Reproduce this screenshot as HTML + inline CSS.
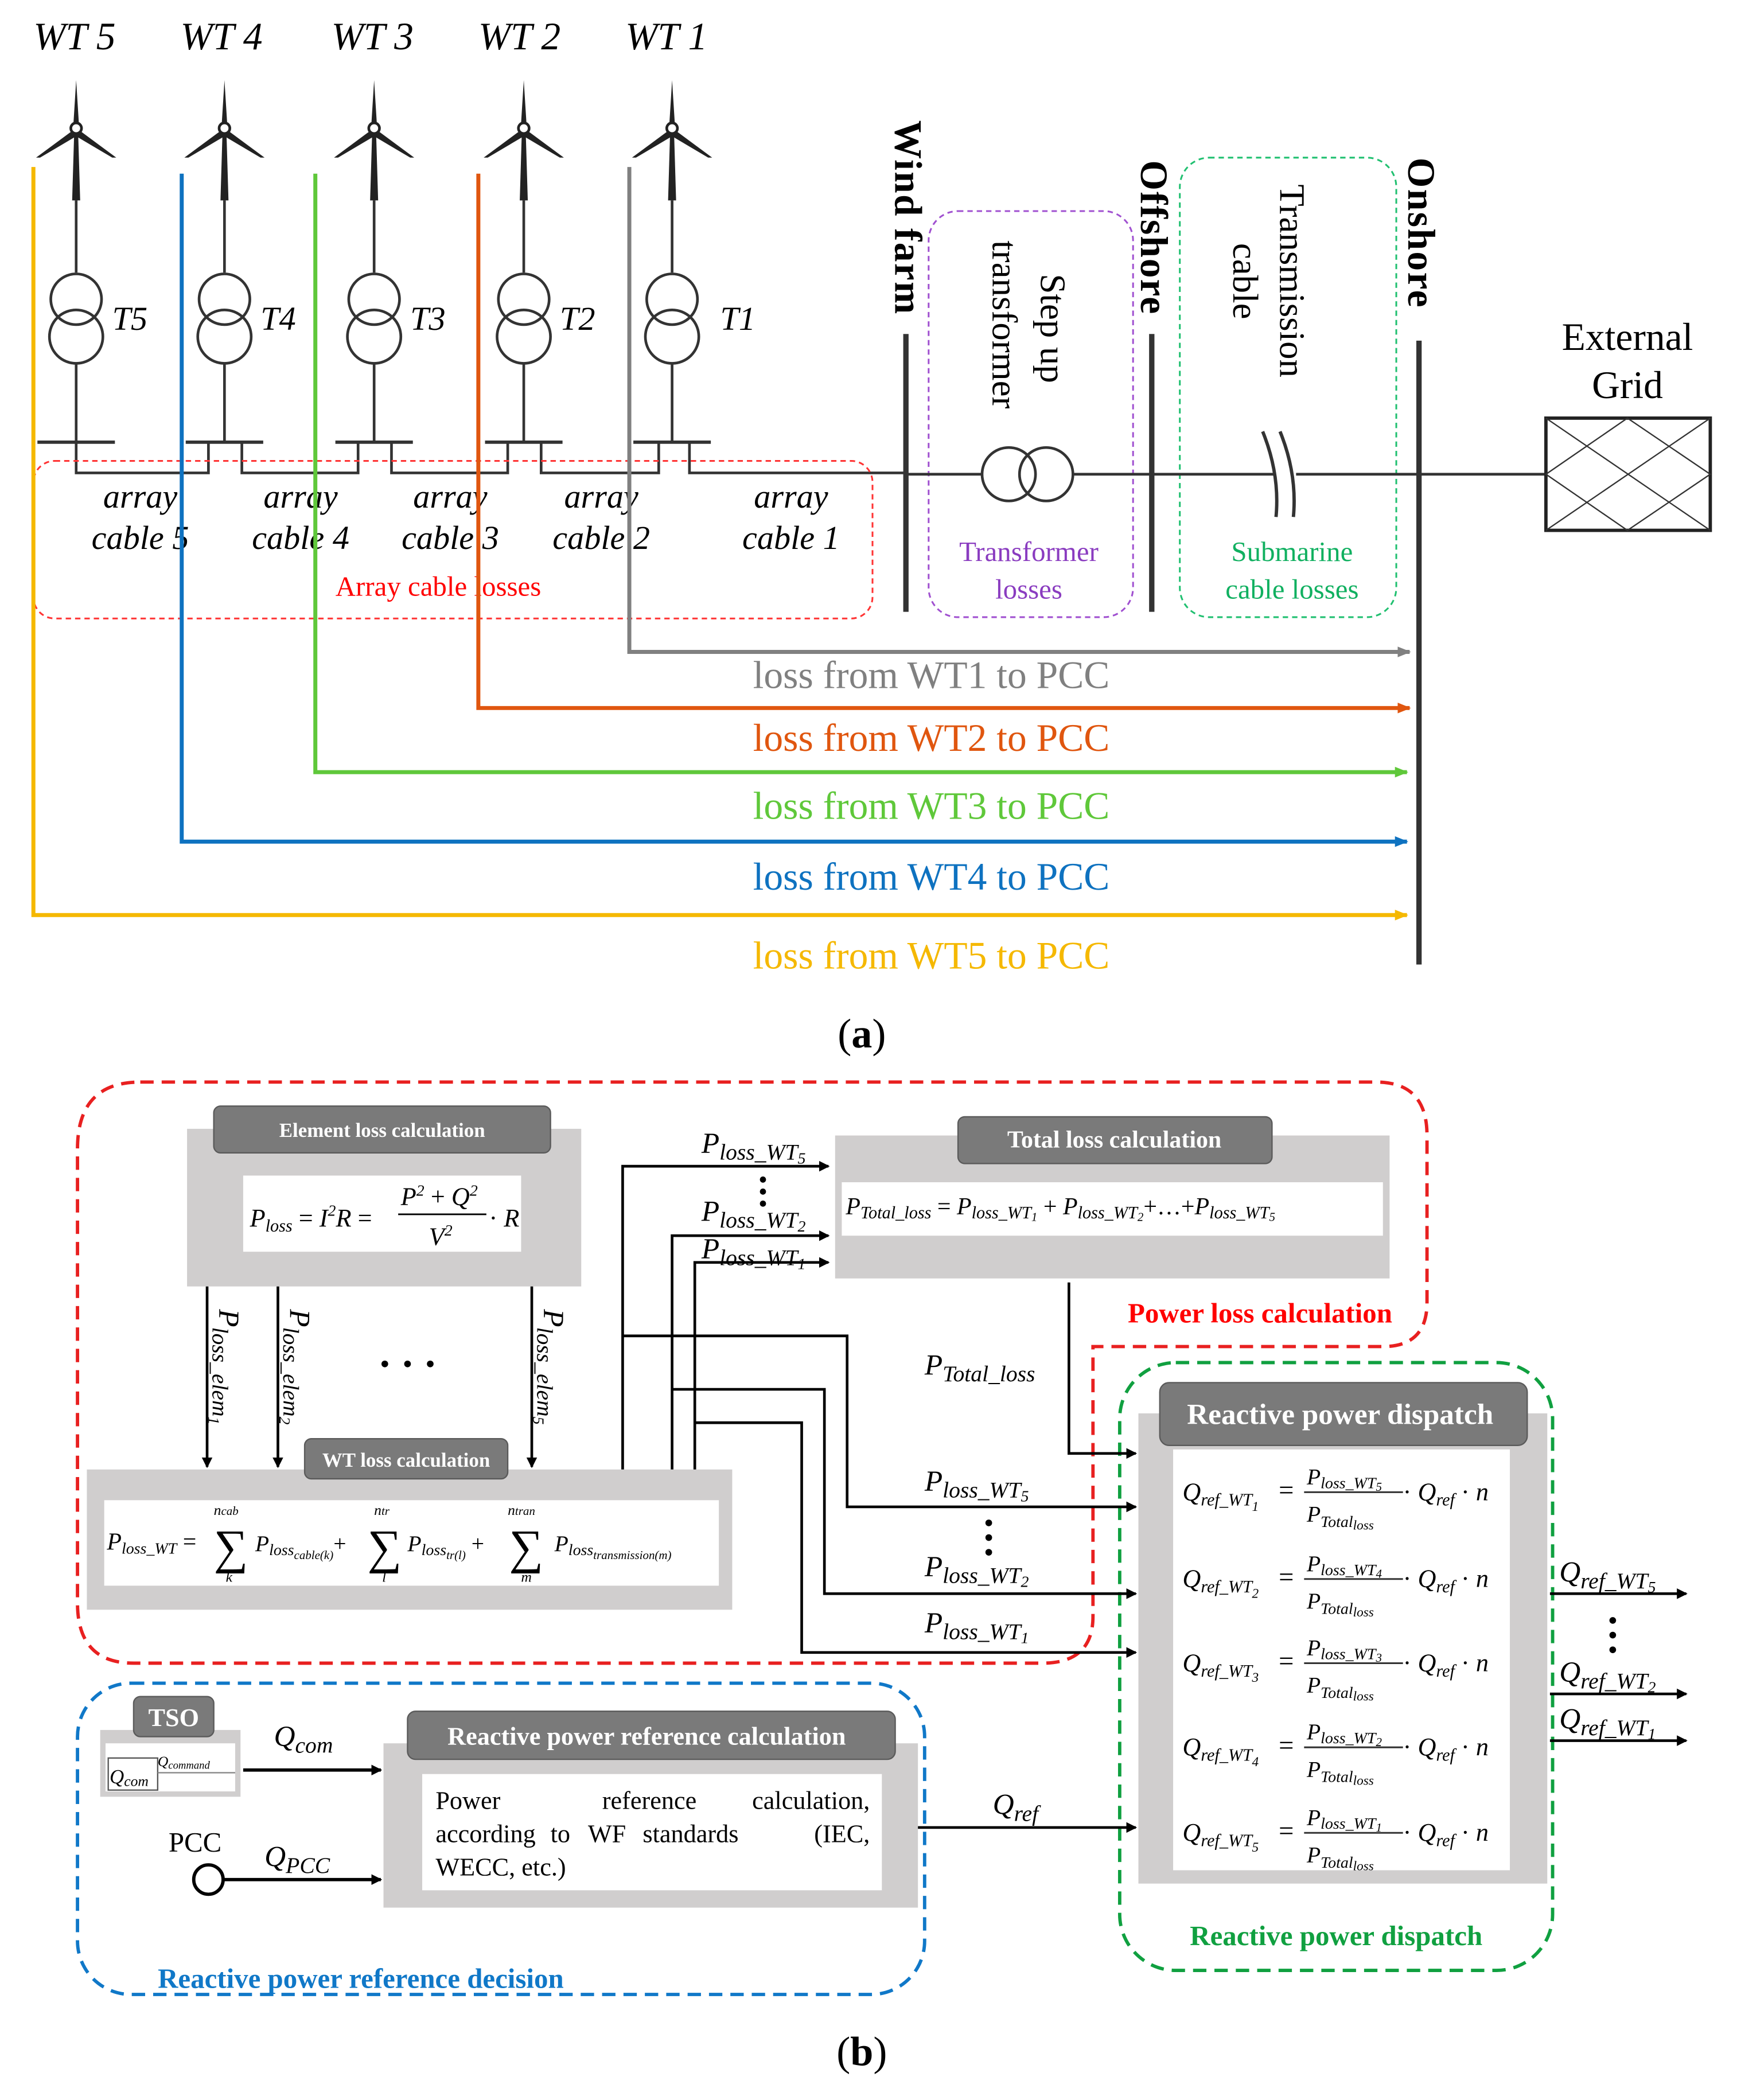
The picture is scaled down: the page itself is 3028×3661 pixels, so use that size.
<!DOCTYPE html>
<html><head><meta charset="utf-8">
<style>
html,body{margin:0;padding:0;background:#fff;}
svg{display:block;}
text{font-family:"Liberation Serif",serif;}
</style></head>
<body>
<svg width="3028" height="3661" viewBox="0 0 1300 1572" preserveAspectRatio="none" xmlns="http://www.w3.org/2000/svg">
<defs>
<marker id="ak" markerWidth="8" markerHeight="8" refX="7" refY="4" orient="auto" markerUnits="userSpaceOnUse"><path d="M0,0 L8,4 L0,8 z" fill="#000"/></marker>
<marker id="ag" markerWidth="10" markerHeight="8" refX="9" refY="4" orient="auto" markerUnits="userSpaceOnUse"><path d="M0,0 L10,4 L0,8 z" fill="#808080"/></marker>
<marker id="ao" markerWidth="10" markerHeight="8" refX="9" refY="4" orient="auto" markerUnits="userSpaceOnUse"><path d="M0,0 L10,4 L0,8 z" fill="#e0560f"/></marker>
<marker id="agr" markerWidth="10" markerHeight="8" refX="9" refY="4" orient="auto" markerUnits="userSpaceOnUse"><path d="M0,0 L10,4 L0,8 z" fill="#5fc83a"/></marker>
<marker id="ab" markerWidth="10" markerHeight="8" refX="9" refY="4" orient="auto" markerUnits="userSpaceOnUse"><path d="M0,0 L10,4 L0,8 z" fill="#0e72c0"/></marker>
<marker id="ay" markerWidth="10" markerHeight="8" refX="9" refY="4" orient="auto" markerUnits="userSpaceOnUse"><path d="M0,0 L10,4 L0,8 z" fill="#f5b800"/></marker>
<g id="tb">
<polygon points="0,60 -2,92 2,92" fill="#222"/>
<polygon points="-3,98 -30,118 -27,118 0,102" fill="#222"/>
<polygon points="3,98 30,118 27,118 0,102" fill="#222"/>
<circle cx="0" cy="96" r="4" fill="#fff" stroke="#222" stroke-width="2"/>
<polygon points="-1.5,100 1.5,100 3,150 -3,150" fill="#222"/>
<line x1="0" y1="150" x2="0" y2="204" stroke="#333" stroke-width="2"/>
<circle cx="0" cy="224" r="19" fill="none" stroke="#333" stroke-width="2"/>
<circle cx="0" cy="252" r="20" fill="none" stroke="#333" stroke-width="2"/>
<line x1="0" y1="272" x2="0" y2="331" stroke="#333" stroke-width="2"/>
<line x1="-29" y1="331" x2="29" y2="331" stroke="#333" stroke-width="2.5"/>
</g>
<g id="qrow" font-style="italic">
<text x="885" y="6" font-size="19">Q<tspan font-size="13" dy="4">ref_WT</tspan></text>
<text x="957" y="5" font-size="20" font-style="normal">=</text>
<line x1="976" y1="0" x2="1050" y2="0" stroke="#333" stroke-width="1.3"/>
<text x="978" y="22" font-size="17">P<tspan font-size="12" dy="4">Total<tspan font-size="10" dy="2">loss</tspan></tspan></text>
<text x="1050" y="6" font-size="19"><tspan font-style="normal">· </tspan>Q<tspan font-size="13" dy="4">ref</tspan><tspan dy="-4" font-style="normal"> · </tspan>n</text>
</g>
</defs>

<!-- ===== (a) ===== -->
<g font-size="29" font-style="italic">
<text x="25" y="37">WT 5</text>
<text x="135" y="37">WT 4</text>
<text x="248" y="37">WT 3</text>
<text x="358" y="37">WT 2</text>
<text x="468" y="37">WT 1</text>
</g>
<use href="#tb" x="57" y="0"/>
<use href="#tb" x="168" y="0"/>
<use href="#tb" x="280" y="0"/>
<use href="#tb" x="392" y="0"/>
<use href="#tb" x="503" y="0"/>
<g font-size="25" font-style="italic">
<text x="84" y="247">T5</text><text x="195" y="247">T4</text><text x="307" y="247">T3</text><text x="419" y="247">T2</text><text x="539" y="247">T1</text>
</g>
<path d="M57,331 V354 H156 V331 M181,331 V354 H268 V331 M293,331 V354 H380 V331 M405,331 V354 H493 V331 M516,331 V354 H678" fill="none" stroke="#333" stroke-width="2"/>
<g font-size="25" font-style="italic" text-anchor="middle">
<text x="105" y="380">array</text><text x="105" y="411">cable 5</text>
<text x="225" y="380">array</text><text x="225" y="411">cable 4</text>
<text x="337" y="380">array</text><text x="337" y="411">cable 3</text>
<text x="450" y="380">array</text><text x="450" y="411">cable 2</text>
<text x="592" y="380">array</text><text x="592" y="411">cable 1</text>
</g>
<rect x="25" y="345" width="628" height="118" rx="16" fill="none" stroke="#f33" stroke-width="1.3" stroke-dasharray="4,3"/>
<text x="328" y="446" font-size="21" fill="#f00" text-anchor="middle">Array cable losses</text>

<path d="M471,125 V488 H1055" fill="none" stroke="#808080" stroke-width="3" marker-end="url(#ag)"/>
<path d="M358,130 V530 H1055" fill="none" stroke="#e0560f" stroke-width="3" marker-end="url(#ao)"/>
<path d="M236,130 V578 H1053" fill="none" stroke="#5fc83a" stroke-width="3" marker-end="url(#agr)"/>
<path d="M136,130 V630 H1053" fill="none" stroke="#0e72c0" stroke-width="3" marker-end="url(#ab)"/>
<path d="M25,125 V685 H1053" fill="none" stroke="#f5b800" stroke-width="3" marker-end="url(#ay)"/>
<g font-size="29" text-anchor="middle">
<text x="697" y="515" fill="#808080">loss from WT1 to PCC</text>
<text x="697" y="562" fill="#e0560f">loss from WT2 to PCC</text>
<text x="697" y="613" fill="#5fc83a">loss from WT3 to PCC</text>
<text x="697" y="666" fill="#0e72c0">loss from WT4 to PCC</text>
<text x="697" y="725" fill="#f5b800">loss from WT5 to PCC</text>
</g>

<line x1="678" y1="250" x2="678" y2="458" stroke="#333" stroke-width="4"/>
<line x1="862" y1="250" x2="862" y2="458" stroke="#333" stroke-width="4"/>
<line x1="1062" y1="255" x2="1062" y2="722" stroke="#333" stroke-width="4"/>
<g font-size="29" font-weight="bold">
<text transform="translate(670,90) rotate(90)" textLength="145">Wind farm</text>
<text transform="translate(854,120) rotate(90)" textLength="115">Offshore</text>
<text transform="translate(1054,118) rotate(90)" textLength="112">Onshore</text>
</g>
<g font-size="27">
<text transform="translate(779,205) rotate(90)">Step up</text>
<text transform="translate(743,180) rotate(90)">transformer</text>
<text transform="translate(958,138) rotate(90)">Transmission</text>
<text transform="translate(923,182) rotate(90)">cable</text>
</g>
<rect x="695" y="158" width="153" height="304" rx="22" fill="none" stroke="#a050d0" stroke-width="1.3" stroke-dasharray="4,3"/>
<rect x="883" y="118" width="162" height="344" rx="22" fill="none" stroke="#20c070" stroke-width="1.3" stroke-dasharray="4,3"/>
<path d="M678,355 H735 M803,355 H862 M862,355 H955 M970,355 H1157" stroke="#333" stroke-width="2"/>
<circle cx="755" cy="355" r="20" fill="none" stroke="#333" stroke-width="2"/>
<circle cx="783" cy="355" r="20" fill="none" stroke="#333" stroke-width="2"/>
<path d="M945,323 Q958,355 955,387 M958,323 Q971,355 968,387" fill="none" stroke="#333" stroke-width="2.5"/>
<g font-size="21" text-anchor="middle">
<text x="770" y="420" fill="#8a3cc0">Transformer</text><text x="770" y="448" fill="#8a3cc0">losses</text>
<text x="967" y="420" fill="#10b060">Submarine</text><text x="967" y="448" fill="#10b060">cable losses</text>
</g>
<g font-size="29" text-anchor="middle">
<text x="1218" y="262">External</text><text x="1218" y="298">Grid</text>
</g>
<rect x="1157" y="313" width="123" height="84" fill="none" stroke="#222" stroke-width="2.5"/>
<path d="M1157,313 L1280,397 M1280,313 L1157,397 M1157,355 L1218,313 L1280,355 L1218,397 Z" fill="none" stroke="#333" stroke-width="1"/>
<text x="645" y="784" font-size="31" text-anchor="middle">(<tspan font-weight="bold">a</tspan>)</text>

<!-- ===== (b) ===== -->
<path d="M105,810 H1030 Q1068,810 1068,850 V975 Q1068,1008 1035,1008 H818 V1210 Q818,1245 780,1245 H100 Q58,1245 58,1200 V860 Q58,810 105,810 Z" fill="none" stroke="#e82020" stroke-width="2.5" stroke-dasharray="10,6"/>
<rect x="838" y="1020" width="324" height="455" rx="42" fill="none" stroke="#10a040" stroke-width="2.5" stroke-dasharray="10,6"/>
<rect x="58" y="1260" width="634" height="233" rx="40" fill="none" stroke="#1078c8" stroke-width="2.5" stroke-dasharray="10,6"/>
<text x="943" y="990" font-size="21" font-weight="bold" fill="#f00" text-anchor="middle">Power loss calculation</text>
<text x="1000" y="1456" font-size="21" font-weight="bold" fill="#10a040" text-anchor="middle">Reactive power dispatch</text>
<text x="270" y="1488" font-size="21" font-weight="bold" fill="#1078c8" text-anchor="middle">Reactive power reference decision</text>

<rect x="140" y="845" width="295" height="118" fill="#d0cece"/>
<rect x="160" y="828" width="252" height="35" rx="5" fill="#7a7a7a" stroke="#5a5a5a"/>
<text x="286" y="851" font-size="15" font-weight="bold" fill="#fff" text-anchor="middle">Element loss calculation</text>
<rect x="182" y="880" width="208" height="57" fill="#fff"/>
<g font-size="19" font-style="italic">
<text x="187" y="918">P<tspan font-size="13" dy="4">loss</tspan><tspan dy="-4" font-style="normal"> = </tspan>I<tspan font-size="12" dy="-8">2</tspan><tspan dy="8">R</tspan><tspan font-style="normal"> =</tspan></text>
<text x="300" y="902">P<tspan font-size="12" dy="-7">2</tspan><tspan dy="7" font-style="normal"> + </tspan>Q<tspan font-size="12" dy="-7">2</tspan></text>
<line x1="298" y1="909" x2="364" y2="909" stroke="#000" stroke-width="1.2"/>
<text x="321" y="932">V<tspan font-size="12" dy="-7">2</tspan></text>
<text x="366" y="918"><tspan font-style="normal">· </tspan>R</text>
</g>
<line x1="155" y1="963" x2="155" y2="1098" stroke="#000" stroke-width="2" marker-end="url(#ak)"/>
<line x1="208" y1="963" x2="208" y2="1098" stroke="#000" stroke-width="2" marker-end="url(#ak)"/>
<line x1="398" y1="963" x2="398" y2="1098" stroke="#000" stroke-width="2" marker-end="url(#ak)"/>
<g font-size="22" font-style="italic">
<text transform="translate(164,980) rotate(90)">P<tspan font-size="17" dy="5">loss_elem<tspan font-size="12" dy="3">1</tspan></tspan></text>
<text transform="translate(217,980) rotate(90)">P<tspan font-size="17" dy="5">loss_elem<tspan font-size="12" dy="3">2</tspan></tspan></text>
<text transform="translate(407,980) rotate(90)">P<tspan font-size="17" dy="5">loss_elem<tspan font-size="12" dy="3">5</tspan></tspan></text>
</g>
<g fill="#000"><circle cx="288" cy="1021" r="2.5"/><circle cx="305" cy="1021" r="2.5"/><circle cx="322" cy="1021" r="2.5"/></g>

<rect x="65" y="1100" width="483" height="105" fill="#d0cece"/>
<rect x="228" y="1077" width="152" height="30" rx="5" fill="#7a7a7a" stroke="#5a5a5a"/>
<text x="304" y="1098" font-size="15" font-weight="bold" fill="#fff" text-anchor="middle">WT loss calculation</text>
<rect x="78" y="1123" width="460" height="64" fill="#fff"/>
<g font-style="italic">
<text x="80" y="1160" font-size="18">P<tspan font-size="12" dy="3">loss_WT</tspan><tspan dy="-3" font-style="normal" font-size="18"> =</tspan></text>
<text x="160" y="1170" font-size="36" font-style="normal">∑</text>
<text x="160" y="1134" font-size="11">n<tspan font-size="9">cab</tspan></text>
<text x="169" y="1184" font-size="11">k</text>
<text x="191" y="1161" font-size="17">P<tspan font-size="12" dy="3">loss<tspan font-size="9" dy="3">cable(k)</tspan></tspan><tspan dy="-6" font-style="normal">+</tspan></text>
<text x="275" y="1170" font-size="36" font-style="normal">∑</text>
<text x="280" y="1134" font-size="11">n<tspan font-size="9">tr</tspan></text>
<text x="286" y="1184" font-size="11">l</text>
<text x="305" y="1161" font-size="17">P<tspan font-size="12" dy="3">loss<tspan font-size="9" dy="3">tr(l)</tspan></tspan><tspan dy="-6" font-style="normal"> +</tspan></text>
<text x="381" y="1170" font-size="36" font-style="normal">∑</text>
<text x="380" y="1134" font-size="11">n<tspan font-size="9">tran</tspan></text>
<text x="390" y="1184" font-size="11">m</text>
<text x="415" y="1161" font-size="17">P<tspan font-size="12" dy="3">loss<tspan font-size="9" dy="3">transmission(m)</tspan></tspan></text>
</g>

<rect x="625" y="850" width="415" height="107" fill="#d0cece"/>
<rect x="717" y="836" width="235" height="35" rx="5" fill="#7a7a7a" stroke="#5a5a5a"/>
<text x="834" y="859" font-size="18" font-weight="bold" fill="#fff" text-anchor="middle">Total loss  calculation</text>
<rect x="630" y="885" width="405" height="40" fill="#fff"/>
<text x="633" y="909" font-size="18" font-style="italic">P<tspan font-size="13" dy="3">Total_loss</tspan><tspan dy="-3" font-style="normal">  =   </tspan>P<tspan font-size="13" dy="3">loss_WT<tspan font-size="9" dy="2">1</tspan></tspan><tspan dy="-5" font-style="normal"> + </tspan>P<tspan font-size="13" dy="3">loss_WT<tspan font-size="9" dy="2">2</tspan></tspan><tspan dy="-5" font-style="normal">+…+</tspan>P<tspan font-size="13" dy="3">loss_WT<tspan font-size="9" dy="2">5</tspan></tspan></text>

<path d="M466,1100 V873 H620" fill="none" stroke="#000" stroke-width="2" marker-end="url(#ak)"/>
<path d="M503,1100 V925 H620" fill="none" stroke="#000" stroke-width="2" marker-end="url(#ak)"/>
<path d="M520,1100 V945 H620" fill="none" stroke="#000" stroke-width="2" marker-end="url(#ak)"/>
<path d="M466,1000 H634 V1128 H850" fill="none" stroke="#000" stroke-width="2" marker-end="url(#ak)"/>
<path d="M503,1040 H617 V1193 H850" fill="none" stroke="#000" stroke-width="2" marker-end="url(#ak)"/>
<path d="M520,1065 H600 V1237 H850" fill="none" stroke="#000" stroke-width="2" marker-end="url(#ak)"/>
<path d="M800,960 V1088 H850" fill="none" stroke="#000" stroke-width="2" marker-end="url(#ak)"/>
<g font-size="22" font-style="italic">
<text x="525" y="863">P<tspan font-size="17" dy="5">loss_WT<tspan font-size="12" dy="3">5</tspan></tspan></text>
<text x="525" y="914">P<tspan font-size="17" dy="5">loss_WT<tspan font-size="12" dy="3">2</tspan></tspan></text>
<text x="525" y="942">P<tspan font-size="17" dy="5">loss_WT<tspan font-size="12" dy="3">1</tspan></tspan></text>
<text x="692" y="1029">P<tspan font-size="17" dy="5">Total_loss</tspan></text>
<text x="692" y="1116">P<tspan font-size="17" dy="5">loss_WT<tspan font-size="12" dy="3">5</tspan></tspan></text>
<text x="692" y="1180">P<tspan font-size="17" dy="5">loss_WT<tspan font-size="12" dy="3">2</tspan></tspan></text>
<text x="692" y="1222">P<tspan font-size="17" dy="5">loss_WT<tspan font-size="12" dy="3">1</tspan></tspan></text>
</g>
<g fill="#000"><circle cx="571" cy="883" r="2.3"/><circle cx="571" cy="892" r="2.3"/><circle cx="571" cy="901" r="2.3"/>
<circle cx="740" cy="1140" r="2.5"/><circle cx="740" cy="1151" r="2.5"/><circle cx="740" cy="1162" r="2.5"/>
<circle cx="1207" cy="1213" r="2.5"/><circle cx="1207" cy="1224" r="2.5"/><circle cx="1207" cy="1235" r="2.5"/></g>

<rect x="852" y="1058" width="306" height="352" fill="#d0cece"/>
<rect x="868" y="1035" width="275" height="47" rx="7" fill="#7a7a7a" stroke="#5a5a5a"/>
<text x="1003" y="1066" font-size="22" font-weight="bold" fill="#fff" text-anchor="middle">Reactive power dispatch</text>
<rect x="878" y="1085" width="252" height="315" fill="#fff"/>
<g font-style="italic">
<g transform="translate(0,1117)"><use href="#qrow"/>
<text x="937" y="14" font-size="10">1</text>
<text x="978" y="-6" font-size="17">P<tspan font-size="12" dy="3">loss_WT<tspan font-size="9" dy="2">5</tspan></tspan></text></g>
<g transform="translate(0,1182)"><use href="#qrow"/>
<text x="937" y="14" font-size="10">2</text>
<text x="978" y="-6" font-size="17">P<tspan font-size="12" dy="3">loss_WT<tspan font-size="9" dy="2">4</tspan></tspan></text></g>
<g transform="translate(0,1245)"><use href="#qrow"/>
<text x="937" y="14" font-size="10">3</text>
<text x="978" y="-6" font-size="17">P<tspan font-size="12" dy="3">loss_WT<tspan font-size="9" dy="2">3</tspan></tspan></text></g>
<g transform="translate(0,1308)"><use href="#qrow"/>
<text x="937" y="14" font-size="10">4</text>
<text x="978" y="-6" font-size="17">P<tspan font-size="12" dy="3">loss_WT<tspan font-size="9" dy="2">2</tspan></tspan></text></g>
<g transform="translate(0,1372)"><use href="#qrow"/>
<text x="937" y="14" font-size="10">5</text>
<text x="978" y="-6" font-size="17">P<tspan font-size="12" dy="3">loss_WT<tspan font-size="9" dy="2">1</tspan></tspan></text></g>
</g>
<line x1="1160" y1="1193" x2="1262" y2="1193" stroke="#000" stroke-width="2" marker-end="url(#ak)"/>
<line x1="1160" y1="1268" x2="1262" y2="1268" stroke="#000" stroke-width="2" marker-end="url(#ak)"/>
<line x1="1160" y1="1303" x2="1262" y2="1303" stroke="#000" stroke-width="2" marker-end="url(#ak)"/>
<g font-size="22" font-style="italic">
<text x="1167" y="1184">Q<tspan font-size="17" dy="5">ref_WT<tspan font-size="12" dy="3">5</tspan></tspan></text>
<text x="1167" y="1259">Q<tspan font-size="17" dy="5">ref_WT<tspan font-size="12" dy="3">2</tspan></tspan></text>
<text x="1167" y="1294">Q<tspan font-size="17" dy="5">ref_WT<tspan font-size="12" dy="3">1</tspan></tspan></text>
</g>

<rect x="75" y="1295" width="105" height="50" fill="#d0cece"/>
<rect x="79" y="1305" width="97" height="36" fill="#fff"/>
<rect x="100" y="1270" width="60" height="30" rx="5" fill="#7a7a7a" stroke="#5a5a5a"/>
<text x="130" y="1292" font-size="19" font-weight="bold" fill="#fff" text-anchor="middle">TSO</text>
<rect x="81" y="1316" width="37" height="24" fill="none" stroke="#555" stroke-width="1"/>
<text x="82" y="1335" font-size="15" font-style="italic">Q<tspan font-size="11" dy="2">com</tspan></text>
<text x="118" y="1322" font-size="11" font-style="italic">Q<tspan font-size="8" dy="2">command</tspan></text>
<line x1="118" y1="1327" x2="176" y2="1327" stroke="#888" stroke-width="1"/>
<line x1="182" y1="1325" x2="285" y2="1325" stroke="#000" stroke-width="2.5" marker-end="url(#ak)"/>
<text x="205" y="1307" font-size="22" font-style="italic">Q<tspan font-size="17" dy="5">com</tspan></text>
<text x="146" y="1386" font-size="21" text-anchor="middle">PCC</text>
<circle cx="156" cy="1407" r="11" fill="#fff" stroke="#000" stroke-width="2.5"/>
<line x1="167" y1="1407" x2="285" y2="1407" stroke="#000" stroke-width="2.5" marker-end="url(#ak)"/>
<text x="198" y="1397" font-size="22" font-style="italic">Q<tspan font-size="17" dy="5">PCC</tspan></text>

<rect x="287" y="1305" width="400" height="123" fill="#d0cece"/>
<rect x="305" y="1281" width="365" height="36" rx="6" fill="#7a7a7a" stroke="#5a5a5a"/>
<text x="484" y="1306" font-size="19" font-weight="bold" fill="#fff" text-anchor="middle">Reactive power reference calculation</text>
<rect x="316" y="1328" width="344" height="87" fill="#fff"/>
<g font-size="19">
<text x="326" y="1354">Power</text><text x="486" y="1354" text-anchor="middle">reference</text><text x="651" y="1354" text-anchor="end">calculation,</text>
<text x="326" y="1379">according</text><text x="412" y="1379">to</text><text x="440" y="1379">WF</text><text x="481" y="1379">standards</text><text x="651" y="1379" text-anchor="end">(IEC,</text>
<text x="326" y="1404">WECC, etc.)</text>
</g>
<line x1="687" y1="1368" x2="850" y2="1368" stroke="#000" stroke-width="2" marker-end="url(#ak)"/>
<text x="743" y="1358" font-size="22" font-style="italic">Q<tspan font-size="17" dy="5">ref</tspan></text>

<text x="645" y="1546" font-size="31" text-anchor="middle">(<tspan font-weight="bold">b</tspan>)</text>
</svg>
</body></html>
